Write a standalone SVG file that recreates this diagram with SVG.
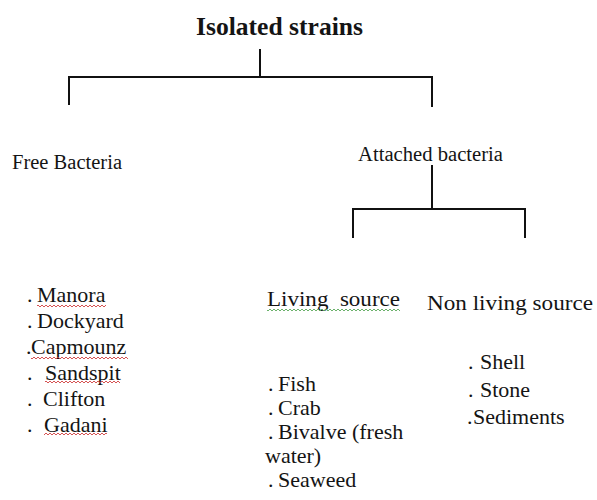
<svg xmlns="http://www.w3.org/2000/svg" width="597" height="500" viewBox="0 0 597 500" font-family="'Liberation Serif', 'Times New Roman', serif">
<style>
text,tspan{font-family:"Liberation Serif","Times New Roman",serif;fill:#141414}
.t{font-size:25.5px;font-weight:bold}
.h{font-size:20.5px}
.l{font-size:22px}
.c{fill:none;stroke:#111;stroke-width:2}
</style>
<defs>
<pattern id="wr" patternUnits="userSpaceOnUse" width="4" height="4"><path d="M0 3 L2 1 L4 3" fill="none" stroke="#d04040" stroke-width="0.9"/></pattern>
<pattern id="wg" patternUnits="userSpaceOnUse" width="4" height="4"><path d="M0 3 L2 1 L4 3" fill="none" stroke="#5aa85a" stroke-width="0.9"/></pattern>
</defs>
<rect width="597" height="500" fill="#fff"/>
<g id="connectors">
<path class="c" d="M260 49 V77 M69 105 V77 H432 V107"/>
<path class="c" d="M432 165 V209 M353 238 V209 H525 V238"/>
</g>
<g id="title"><text class="t" x="196" y="35" textLength="167" lengthAdjust="spacingAndGlyphs">Isolated strains</text></g>
<g id="free-bacteria"><text class="h" x="12" y="169" textLength="110" lengthAdjust="spacingAndGlyphs">Free Bacteria</text></g>
<g id="attached-bacteria"><text class="h" x="358" y="161" textLength="145" lengthAdjust="spacingAndGlyphs">Attached bacteria</text></g>
<g id="living-source">
<text class="l" x="267" y="306" textLength="133" lengthAdjust="spacingAndGlyphs" xml:space="preserve">Living  source</text>
<rect x="267" y="307" width="133" height="4" fill="url(#wg)"/>
</g>
<g id="nonliving-source"><text class="l" x="427" y="310" textLength="166" lengthAdjust="spacingAndGlyphs">Non living source</text></g>
<g id="free-list">
<text class="l" y="302"><tspan x="27">. </tspan><tspan x="37">Manora</tspan></text>
<text class="l" y="328"><tspan x="27">. </tspan><tspan x="37">Dockyard</tspan></text>
<text class="l" y="354"><tspan x="26">.</tspan><tspan x="31">Capmounz</tspan></text>
<text class="l" y="380"><tspan x="27">. </tspan><tspan x="45">Sandspit</tspan></text>
<text class="l" y="406"><tspan x="27">. </tspan><tspan x="43">Clifton</tspan></text>
<text class="l" y="432"><tspan x="27">. </tspan><tspan x="44">Gadani</tspan></text>
<rect x="37" y="303" width="69" height="4" fill="url(#wr)"/>
<rect x="31" y="355" width="97" height="4" fill="url(#wr)"/>
<rect x="45" y="381" width="75" height="4" fill="url(#wr)"/>
<rect x="44" y="433" width="63" height="4" fill="url(#wr)"/>
</g>
<g id="living-list">
<text class="l" y="391"><tspan x="268">. </tspan><tspan x="278">Fish</tspan></text>
<text class="l" y="415"><tspan x="268">. </tspan><tspan x="278">Crab</tspan></text>
<text class="l" y="439"><tspan x="268">. </tspan><tspan x="278">Bivalve (fresh</tspan></text>
<text class="l" x="265" y="463">water)</text>
<text class="l" y="487"><tspan x="268">. </tspan><tspan x="278">Seaweed</tspan></text>
</g>
<g id="nonliving-list">
<text class="l" y="369"><tspan x="468">. </tspan><tspan x="480">Shell</tspan></text>
<text class="l" y="397"><tspan x="468">. </tspan><tspan x="480">Stone</tspan></text>
<text class="l" y="424"><tspan x="467">.</tspan><tspan x="473">Sediments</tspan></text>
</g>
</svg>
